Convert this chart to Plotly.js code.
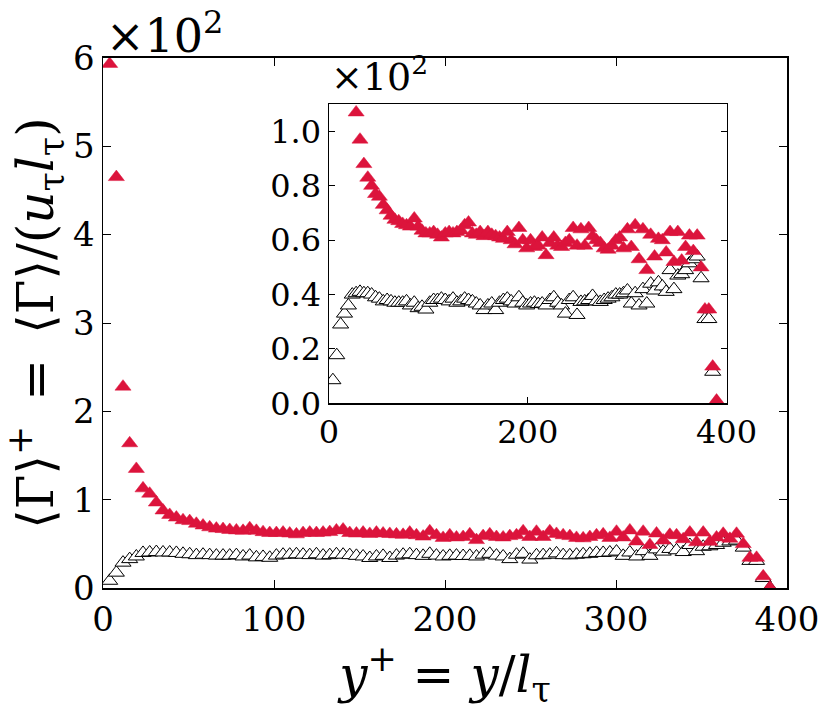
<!DOCTYPE html>
<html>
<head>
<meta charset="utf-8">
<script src="https://cdn.plot.ly/plotly-3.0.1.min.js"></script>
<style>html,body{margin:0;padding:0;background:#fff;}#chart{width:831px;height:714px;}</style>
</head>
<body>
<div id="chart"></div>
<script>
// y+ positions (wall units)
const yplus = [3.9, 7.8, 11.7, 15.6, 19.5, 23.4, 27.3, 31.2, 35.1, 39.0,
  42.9, 46.8, 50.7, 54.6, 58.5, 62.4, 66.3, 70.2, 74.1, 78.0,
  81.9, 85.8, 89.7, 93.6, 97.5, 101.4, 105.3, 109.2, 113.1, 117.0,
  120.9, 124.8, 128.7, 132.6, 136.5, 140.4, 144.3, 148.2, 152.1, 156.0,
  159.9, 163.8, 167.7, 171.6, 175.5, 179.4, 183.3, 187.2, 191.1, 195.0,
  198.9, 202.8, 206.7, 210.6, 214.5, 218.4, 222.3, 226.2, 230.1, 234.0,
  237.9, 241.8, 245.7, 249.6, 253.5, 257.4, 261.3, 265.2, 269.1, 273.0,
  276.9, 280.8, 284.7, 288.6, 292.5, 296.4, 300.3, 304.2, 308.1, 312.0,
  315.9, 319.8, 323.7, 327.6, 331.5, 335.4, 339.3, 343.2, 347.1, 351.0,
  354.9, 358.8, 362.7, 366.6, 370.5, 374.4, 378.3, 382.2, 386.1, 390.0];

// filled red series (x 10^2)
const gammaRed = [5.93, 4.65, 2.28, 1.64, 1.35, 1.13, 1.07, 0.97, 0.88, 0.83,
  0.80, 0.77, 0.76, 0.73, 0.71, 0.69, 0.675, 0.67, 0.66, 0.655,
  0.65, 0.68, 0.65, 0.635, 0.625, 0.625, 0.63, 0.62, 0.61, 0.625,
  0.63, 0.625, 0.63, 0.636, 0.655, 0.665, 0.625, 0.62, 0.63, 0.615,
  0.63, 0.62, 0.615, 0.61, 0.605, 0.63, 0.60, 0.585, 0.645, 0.60,
  0.57, 0.60, 0.575, 0.58, 0.61, 0.545, 0.59, 0.61, 0.58, 0.575,
  0.59, 0.60, 0.645, 0.58, 0.64, 0.58, 0.645, 0.615, 0.60, 0.59,
  0.57, 0.565, 0.58, 0.60, 0.61, 0.57, 0.64, 0.575, 0.655, 0.53,
  0.64, 0.49, 0.62, 0.54, 0.605, 0.60, 0.555, 0.63, 0.52, 0.63,
  0.525, 0.575, 0.617, 0.56, 0.617, 0.50, 0.345, 0.345, 0.135, 0.01];

// open (white) series (x 10^2)
const gammaOpen = [0.085, 0.177, 0.29, 0.33, 0.36, 0.40, 0.405, 0.41, 0.405, 0.405,
  0.40, 0.39, 0.385, 0.375, 0.38, 0.375, 0.37, 0.37, 0.37, 0.375,
  0.36, 0.37, 0.35, 0.355, 0.345, 0.37, 0.38, 0.38, 0.385, 0.38,
  0.375, 0.385, 0.37, 0.375, 0.385, 0.38, 0.375, 0.367, 0.36, 0.343,
  0.36, 0.367, 0.343, 0.37, 0.38, 0.385, 0.375, 0.367, 0.39, 0.37,
  0.36, 0.367, 0.37, 0.365, 0.367, 0.36, 0.38, 0.39, 0.37, 0.36,
  0.33, 0.38, 0.39, 0.325, 0.373, 0.375, 0.38, 0.395, 0.375, 0.373,
  0.38, 0.385, 0.39, 0.40, 0.40, 0.405, 0.415, 0.367, 0.405, 0.36,
  0.42, 0.367, 0.44, 0.415, 0.445, 0.43, 0.41, 0.49, 0.42, 0.47,
  0.475, 0.49, 0.515, 0.53, 0.54, 0.46, 0.31, 0.31, 0.116, 0.005];

const mainXTicks = [0, 100, 200, 300, 400];
const mainYTicks = [0, 1, 2, 3, 4, 5, 6];
const insetXTicks = [0, 200, 400];
const insetYTicks = [0.0, 0.2, 0.4, 0.6, 0.8, 1.0];

const RED = '#DC143C';
const FONT = 'DejaVu Serif';

function openTrace(xa, ya) {
  return {x: yplus, y: gammaOpen, xaxis: xa, yaxis: ya, type: 'scatter', mode: 'markers',
    marker: {symbol: 'triangle-up', size: 14, color: '#ffffff', line: {color: '#000000', width: 1}},
    showlegend: false, hoverinfo: 'x+y'};
}
function redTrace(xa, ya) {
  return {x: yplus, y: gammaRed, xaxis: xa, yaxis: ya, type: 'scatter', mode: 'markers',
    marker: {symbol: 'triangle-up', size: 14, color: RED, line: {color: RED, width: 0.5}},
    showlegend: false, hoverinfo: 'x+y'};
}

const data = [openTrace('x', 'y'), redTrace('x', 'y'), openTrace('x2', 'y2'), redTrace('x2', 'y2')];

function tf(size) { return {family: FONT, size: size, color: '#000'}; }

const axBase = {
  showgrid: false, zeroline: false, showline: true, linecolor: '#000', linewidth: 1.5,
  mirror: 'ticks', ticks: 'inside', tickcolor: '#000', tickwidth: 1, automargin: false
};

const W = 831, H = 714;
const layout = {
  width: W, height: H,
  margin: {l: 0, r: 0, t: 0, b: 0},
  paper_bgcolor: '#fff', plot_bgcolor: '#fff',
  showlegend: false,
  font: tf(34),
  xaxis: Object.assign({}, axBase, {
    domain: [103 / W, 787 / W], range: [0, 400], tickvals: mainXTicks, ticklen: 8,
    anchor: 'y', tickfont: tf(34),
    title: {text: '<i>y</i><sup>+</sup> = <i>y</i>/<i>l</i><sub>τ</sub>', font: tf(50), standoff: 4}
  }),
  yaxis: Object.assign({}, axBase, {
    domain: [1 - 588.3 / H, 1 - 57.7 / H], range: [0, 6], tickvals: mainYTicks, ticklen: 8,
    anchor: 'x', tickfont: tf(34),
    title: {text: '⟨Γ⟩<sup>+</sup>\u2002=\u2002⟨Γ⟩/(<i>u</i><sub>τ</sub><i>l</i><sub>τ</sub>)', font: tf(50), standoff: 6}
  }),
  xaxis2: Object.assign({}, axBase, {
    domain: [329 / W, 726.5 / W], range: [0, 400], tickvals: insetXTicks, ticklen: 6,
    anchor: 'y2', tickfont: tf(32)
  }),
  yaxis2: Object.assign({}, axBase, {
    domain: [1 - 403.3 / H, 1 - 104.3 / H], range: [0, 1.1], tickvals: insetYTicks, ticklen: 6,
    tickformat: '.1f', anchor: 'x2', tickfont: tf(32)
  }),
  annotations: [
    {text: '×10<sup>2</sup>', xref: 'paper', yref: 'paper', x: 104 / W, y: 1 - 1 / H,
     xanchor: 'left', yanchor: 'top', showarrow: false, font: tf(46)},
    {text: '×10<sup>2</sup>', xref: 'paper', yref: 'paper', x: 329 / W, y: 1 - 101 / H,
     xanchor: 'left', yanchor: 'bottom', showarrow: false, font: tf(38)}
  ]
};

Plotly.newPlot('chart', data, layout, {displayModeBar: false, staticPlot: true});
</script>
</body>
</html>
